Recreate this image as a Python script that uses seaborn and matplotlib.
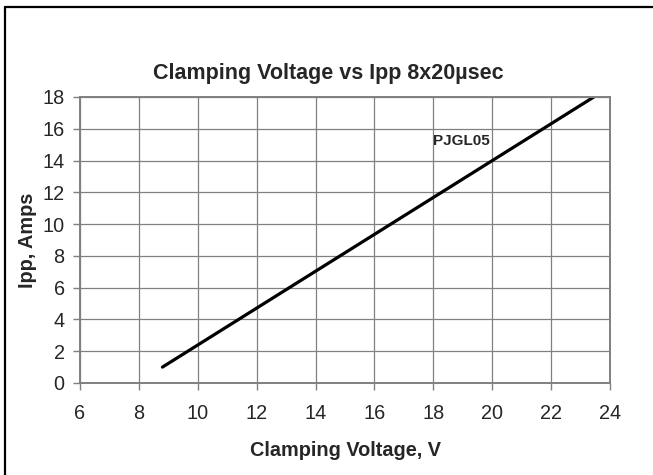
import matplotlib.pyplot as plt
import matplotlib.lines as mlines
import seaborn as sns
import pandas as pd

# Curva de tensão de grampeamento vs Ipp (8x20 µs)
voltagem = [8.8, 23.45]
corrente = [1.0, 18.0]
xticks = [6, 8, 10, 12, 14, 16, 18, 20, 22, 24]
yticks = [0, 2, 4, 6, 8, 10, 12, 14, 16, 18]

GRID = "#808080"

sns.set_theme(style="white")
plt.rcParams["font.family"] = ["Liberation Sans", "DejaVu Sans"]

df = pd.DataFrame({"v": voltagem, "i": corrente})

fig = plt.figure(figsize=(6.53, 4.75), dpi=100)
ax = fig.add_axes([80 / 653, 92 / 475, 530 / 653, 286 / 475])

sns.lineplot(data=df, x="v", y="i", color="black", linewidth=2.3, ax=ax)

ax.set_xlim(6, 24)
ax.set_ylim(0, 18)
ax.set_xticks(xticks)
ax.set_yticks(yticks)
ax.grid(True, color=GRID, linewidth=0.9)
for s in ax.spines.values():
    s.set_color(GRID)
    s.set_linewidth(1.4)
ax.tick_params(axis="both", which="major", length=5, width=1, color=GRID,
               labelsize=14.3, pad=6, direction="out", bottom=True, left=True)
ax.tick_params(axis="x", pad=10)

ax.set_xlabel("Clamping Voltage, V", fontsize=14.3, fontweight="bold", labelpad=13)
ax.set_ylabel("Ipp, Amps", fontsize=14.3, fontweight="bold", labelpad=4)
fig.text(0.503, 1 - 73 / 475, "Clamping Voltage vs Ipp 8x20µsec",
         ha="center", va="center", fontsize=15.5, fontweight="bold")
ax.text(18.0, 15.2, "PJGL05", fontsize=11, fontweight="bold", va="center")

# moldura (só esquerda e topo visíveis)
fig.add_artist(mlines.Line2D([5 / 653, 5 / 653], [0, 1 - 7 / 475],
                             color="black", linewidth=1.6, transform=fig.transFigure))
fig.add_artist(mlines.Line2D([5 / 653, 1], [1 - 7 / 475, 1 - 7 / 475],
                             color="black", linewidth=1.6, transform=fig.transFigure))

fig.savefig("out.png", dpi=100)
plt.close()
